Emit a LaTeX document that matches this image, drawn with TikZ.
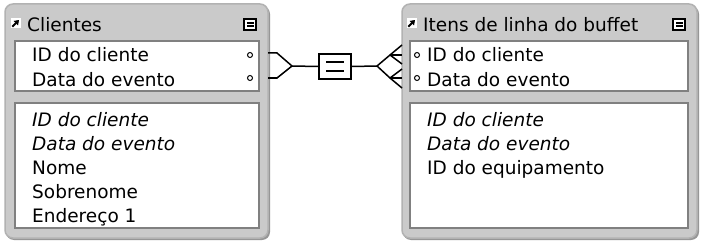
\documentclass[tikz,border=0pt]{standalone}
\usepackage{fontspec}
\setmainfont{DejaVu Sans}
\usetikzlibrary{arrows.meta}
\definecolor{framegray}{RGB}{202,202,202}
\definecolor{frameedge}{RGB}{178,178,178}
\definecolor{frameshadow}{RGB}{150,150,150}
\definecolor{paneledge}{RGB}{128,128,128}
\tikzset{
  frame/.style={rounded corners=8pt, fill=framegray, draw=frameedge, line width=1.5pt},
  fshadow/.style={rounded corners=8pt, fill=frameshadow},
  panel/.style={fill=white, draw=paneledge, line width=1.3pt},
  lbl/.style={anchor=base west, inner sep=0pt, font=\fontsize{18.5}{22}\selectfont},
  ilbl/.style={anchor=base west, inner sep=0pt, font=\fontsize{18.5}{22}\selectfont\itshape},
  keydot/.style={circle, draw=black, fill=white, line width=1pt, inner sep=0pt, minimum size=5pt},
  conn/.style={line width=1.5pt, draw=black},
  relbox/.style={draw=black, fill=white, line width=1.5pt, minimum width=32pt, minimum height=25pt, inner sep=0pt},
  iconbox/.style={draw=black, fill=white, line width=1.3pt},
  linkarrow/.style={line width=1.9pt, -{Triangle[length=4.5pt,width=6pt]}},
}
\begin{document}
\begin{tikzpicture}[x=1pt,y=-1pt]
\useasboundingbox (0,0) rectangle (704,246);
\fill[white] (0,0) rectangle (704,246);
% ---------- left table: Clientes ----------
\fill[fshadow] (6,6) rectangle (270,240);
\draw[frame] (5,4) rectangle (268,238);
\draw[panel] (15,41) rectangle (259,91);
\draw[panel] (15,103) rectangle (259,228);
% title icon
\fill[white] (10.5,18.5) rectangle (20.5,28.5);
\draw[linkarrow] (12.3,26.7) -- (19,20);
\node[lbl] (ctitle) at (27,32) {Clientes};
\draw[iconbox] (244,19) rectangle (256,30);
\fill[black] (246.5,22.5) rectangle (253.5,24);
\fill[black] (246.5,25.5) rectangle (253.5,27);
% fields
\node[lbl] (c1) at (32,62) {ID do cliente};
\node[lbl] (c2) at (32,86) {Data do evento};
\node[keydot] (cd1) at (250,55) {};
\node[keydot] (cd2) at (250,78) {};
\node[ilbl] (c3) at (32,126) {ID do cliente};
\node[ilbl] (c4) at (32,150) {Data do evento};
\node[lbl] (c5) at (32,174) {Nome};
\node[lbl] (c6) at (32,198) {Sobrenome};
\node[lbl] (c7) at (32,222) {Endereço 1};
% ---------- right table: Itens de linha do buffet ----------
\fill[fshadow] (403,6) rectangle (699,240);
\draw[frame] (402,4) rectangle (697,238);
\draw[panel] (410,41) rectangle (688,91);
\draw[panel] (410,103) rectangle (688,228);
\fill[white] (406.5,18.5) rectangle (416.5,28.5);
\draw[linkarrow] (408.3,26.7) -- (415,20);
\node[lbl] (ititle) at (423,32) {Itens de linha do buffet};
\draw[iconbox] (673,19) rectangle (685,30);
\fill[black] (675.5,22.5) rectangle (682.5,24);
\fill[black] (675.5,25.5) rectangle (682.5,27);
\node[keydot] (id1) at (417,55) {};
\node[keydot] (id2) at (417,78) {};
\node[lbl] (i1) at (427,62) {ID do cliente};
\node[lbl] (i2) at (427,86) {Data do evento};
\node[ilbl] (i3) at (427,126) {ID do cliente};
\node[ilbl] (i4) at (427,150) {Data do evento};
\node[lbl] (i5) at (427,174) {ID do equipamento};
% ---------- relationship ----------
\coordinate (la) at (268,53);
\coordinate (lb) at (268,78);
\coordinate (lj) at (292,66);
\coordinate (rj) at (377,66);
\coordinate (t1) at (390,55);
\coordinate (t2) at (390,78);
\node[relbox] (rel) at (335,66.5) {};
\draw[conn] (la) -- ++(9,0) -- (lj);
\draw[conn] (lb) -- ++(9,0) -- (lj);
\draw[conn] (lj) -- (rel.west);
\draw[conn] (rel.east) -- (rj);
\draw[line width=1.5pt] ([xshift=-9pt,yshift=-4.5pt]rel.center) -- ([xshift=9pt,yshift=-4.5pt]rel.center);
\draw[line width=1.5pt] ([xshift=-9pt,yshift=4.5pt]rel.center) -- ([xshift=9pt,yshift=4.5pt]rel.center);
% crow's feet
\draw[conn] (rj) -- (t1) -- (402,45);
\draw[conn] (rj) -- (t2) -- (402,88);
\draw[conn] (t1) -- (402,55);
\draw[conn] (t1) -- (402,64);
\draw[conn] (t2) -- (402,78);
\draw[conn] (t2) -- (402,69);
\end{tikzpicture}
\end{document}
